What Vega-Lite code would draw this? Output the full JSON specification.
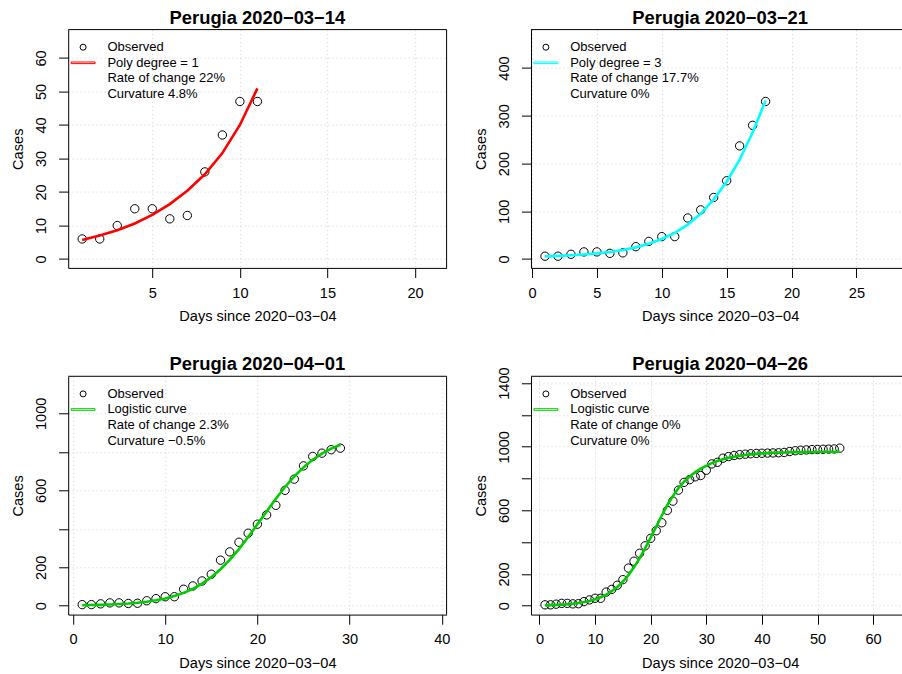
{
  "$schema": "https://vega.github.io/schema/vega-lite/v6.json",
  "autosize": {"type": "pad"},
  "padding": {"left": 10.2, "top": 8.6, "right": 0, "bottom": 0},
  "background": "white",
  "columns": 2,
  "spacing": {"row": 107.7, "column": 83.8},
  "bounds": "flush",
  "resolve": {"scale": {"shape": "independent", "stroke": "independent", "x": "independent", "y": "independent"}, "legend": {"shape": "independent", "stroke": "independent"}},
  "datasets": {
    "obs1": [
      {"day": 1, "cases": 6}, {"day": 2, "cases": 6}, {"day": 3, "cases": 10}, {"day": 4, "cases": 15}, {"day": 5, "cases": 15},
      {"day": 6, "cases": 12}, {"day": 7, "cases": 13}, {"day": 8, "cases": 26}, {"day": 9, "cases": 37}, {"day": 10, "cases": 47}, {"day": 11, "cases": 47}
    ],
    "fit1": [
      {"day": 1, "cases": 5.7}, {"day": 2, "cases": 7.0}, {"day": 3, "cases": 8.6}, {"day": 4, "cases": 10.6}, {"day": 5, "cases": 13.2},
      {"day": 6, "cases": 16.4}, {"day": 7, "cases": 20.4}, {"day": 8, "cases": 25.3}, {"day": 9, "cases": 31.6}, {"day": 10, "cases": 40.0}, {"day": 11, "cases": 50.9}
    ],
    "obs2": [
      {"day": 1, "cases": 6}, {"day": 2, "cases": 6}, {"day": 3, "cases": 10}, {"day": 4, "cases": 15}, {"day": 5, "cases": 15},
      {"day": 6, "cases": 12}, {"day": 7, "cases": 13}, {"day": 8, "cases": 26}, {"day": 9, "cases": 37}, {"day": 10, "cases": 47},
      {"day": 11, "cases": 47}, {"day": 12, "cases": 86}, {"day": 13, "cases": 103}, {"day": 14, "cases": 129}, {"day": 15, "cases": 164},
      {"day": 16, "cases": 237}, {"day": 17, "cases": 280}, {"day": 18, "cases": 330}
    ],
    "fit2": [
      {"day": 1, "cases": 5.6}, {"day": 2, "cases": 6.6}, {"day": 3, "cases": 7.9}, {"day": 4, "cases": 9.6}, {"day": 5, "cases": 11.9},
      {"day": 6, "cases": 14.9}, {"day": 7, "cases": 19}, {"day": 8, "cases": 24.5}, {"day": 9, "cases": 32}, {"day": 10, "cases": 42},
      {"day": 11, "cases": 55}, {"day": 12, "cases": 72}, {"day": 13, "cases": 95}, {"day": 14, "cases": 125}, {"day": 15, "cases": 162},
      {"day": 16, "cases": 208}, {"day": 17, "cases": 265}, {"day": 18, "cases": 332}
    ],
    "obs3": [
      {"day": 1, "cases": 6}, {"day": 2, "cases": 6}, {"day": 3, "cases": 10}, {"day": 4, "cases": 15}, {"day": 5, "cases": 15},
      {"day": 6, "cases": 12}, {"day": 7, "cases": 13}, {"day": 8, "cases": 26}, {"day": 9, "cases": 37}, {"day": 10, "cases": 47},
      {"day": 11, "cases": 47}, {"day": 12, "cases": 86}, {"day": 13, "cases": 103}, {"day": 14, "cases": 129}, {"day": 15, "cases": 164},
      {"day": 16, "cases": 237}, {"day": 17, "cases": 280}, {"day": 18, "cases": 330}, {"day": 19, "cases": 377}, {"day": 20, "cases": 424},
      {"day": 21, "cases": 472}, {"day": 22, "cases": 522}, {"day": 23, "cases": 600}, {"day": 24, "cases": 658}, {"day": 25, "cases": 727},
      {"day": 26, "cases": 776}, {"day": 27, "cases": 793}, {"day": 28, "cases": 811}, {"day": 29, "cases": 819}
    ],
    "fit3": [
      {"day": 1, "cases": 2.7}, {"day": 2, "cases": 3.6}, {"day": 3, "cases": 4.8}, {"day": 4, "cases": 6.5}, {"day": 5, "cases": 8.8},
      {"day": 6, "cases": 11.8}, {"day": 7, "cases": 15.9}, {"day": 8, "cases": 21.3}, {"day": 9, "cases": 28.5}, {"day": 10, "cases": 38.1},
      {"day": 11, "cases": 50.6}, {"day": 12, "cases": 67.0}, {"day": 13, "cases": 88.2}, {"day": 14, "cases": 115.1}, {"day": 15, "cases": 148.8},
      {"day": 16, "cases": 189.9}, {"day": 17, "cases": 238.5}, {"day": 18, "cases": 294.7}, {"day": 19, "cases": 356.9}, {"day": 20, "cases": 423.0},
      {"day": 21, "cases": 490.4}, {"day": 22, "cases": 555.9}, {"day": 23, "cases": 617.2}, {"day": 24, "cases": 671.8}, {"day": 25, "cases": 719.1},
      {"day": 26, "cases": 758.6}, {"day": 27, "cases": 790.9}, {"day": 28, "cases": 816.5}, {"day": 29, "cases": 836.6}
    ],
    "obs4": [
      {"day": 1, "cases": 6}, {"day": 2, "cases": 6}, {"day": 3, "cases": 10}, {"day": 4, "cases": 15}, {"day": 5, "cases": 15},
      {"day": 6, "cases": 12}, {"day": 7, "cases": 13}, {"day": 8, "cases": 26}, {"day": 9, "cases": 37}, {"day": 10, "cases": 47},
      {"day": 11, "cases": 47}, {"day": 12, "cases": 86}, {"day": 13, "cases": 103}, {"day": 14, "cases": 129}, {"day": 15, "cases": 164},
      {"day": 16, "cases": 237}, {"day": 17, "cases": 280}, {"day": 18, "cases": 330}, {"day": 19, "cases": 377}, {"day": 20, "cases": 424},
      {"day": 21, "cases": 472}, {"day": 22, "cases": 522}, {"day": 23, "cases": 600}, {"day": 24, "cases": 658}, {"day": 25, "cases": 727},
      {"day": 26, "cases": 776}, {"day": 27, "cases": 793}, {"day": 28, "cases": 811}, {"day": 29, "cases": 819}, {"day": 30, "cases": 852},
      {"day": 31, "cases": 892}, {"day": 32, "cases": 902}, {"day": 33, "cases": 928}, {"day": 34, "cases": 938}, {"day": 35, "cases": 945},
      {"day": 36, "cases": 950}, {"day": 37, "cases": 953}, {"day": 38, "cases": 956}, {"day": 39, "cases": 958}, {"day": 40, "cases": 959},
      {"day": 41, "cases": 960}, {"day": 42, "cases": 961}, {"day": 43, "cases": 962}, {"day": 44, "cases": 964}, {"day": 45, "cases": 970},
      {"day": 46, "cases": 975}, {"day": 47, "cases": 978}, {"day": 48, "cases": 980}, {"day": 49, "cases": 982}, {"day": 50, "cases": 983},
      {"day": 51, "cases": 984}, {"day": 52, "cases": 985}, {"day": 53, "cases": 986}, {"day": 54, "cases": 991}
    ],
    "fit4": [
      {"day": 1, "cases": 3.1}, {"day": 2, "cases": 4.1}, {"day": 3, "cases": 5.5}, {"day": 4, "cases": 7.4}, {"day": 5, "cases": 9.8},
      {"day": 6, "cases": 13.1}, {"day": 7, "cases": 17.4}, {"day": 8, "cases": 23.1}, {"day": 9, "cases": 30.6}, {"day": 10, "cases": 40.5},
      {"day": 11, "cases": 53.3}, {"day": 12, "cases": 70.0}, {"day": 13, "cases": 91.3}, {"day": 14, "cases": 118.3}, {"day": 15, "cases": 151.8},
      {"day": 16, "cases": 192.8}, {"day": 17, "cases": 241.4}, {"day": 18, "cases": 297.8}, {"day": 19, "cases": 360.5}, {"day": 20, "cases": 428.1},
      {"day": 21, "cases": 497.9}, {"day": 22, "cases": 567.4}, {"day": 23, "cases": 633.5}, {"day": 24, "cases": 690}, {"day": 25, "cases": 740},
      {"day": 26, "cases": 780}, {"day": 27, "cases": 812}, {"day": 28, "cases": 840}, {"day": 29, "cases": 862}, {"day": 30, "cases": 880},
      {"day": 31, "cases": 897}, {"day": 32, "cases": 910}, {"day": 33, "cases": 921}, {"day": 34, "cases": 930}, {"day": 35, "cases": 937},
      {"day": 36, "cases": 943}, {"day": 37, "cases": 948}, {"day": 38, "cases": 952}, {"day": 39, "cases": 955}, {"day": 40, "cases": 958},
      {"day": 41, "cases": 960}, {"day": 42, "cases": 962}, {"day": 43, "cases": 963}, {"day": 44, "cases": 964}, {"day": 45, "cases": 965},
      {"day": 46, "cases": 966}, {"day": 47, "cases": 966}, {"day": 48, "cases": 967}, {"day": 49, "cases": 967}, {"day": 50, "cases": 967},
      {"day": 51, "cases": 968}, {"day": 52, "cases": 968}, {"day": 53, "cases": 968}, {"day": 54, "cases": 968}
    ]
  },
  "concat": [
    {
      "width": 378.4, "height": 238.3,
      "title": {"text": "Perugia 2020−03−14"},
      "layer": [
        {
          "data": {"name": "obs1"},
          "mark": {"type": "point", "filled": false, "size": 70, "strokeWidth": 1, "opacity": 1},
          "encoding": {
            "x": {"field": "day", "type": "quantitative", "scale": {"domain": [0.2, 21.8], "nice": false, "zero": false},
                  "axis": {"values": [5, 10, 15, 20], "title": "Days since 2020−03−04", "labelAngle": 0, "labelAlign": "center", "labelBaseline": "alphabetic", "labelPadding": 19.7, "labelOverlap": false, "labelFlush": false, "titleX": 189.2, "titleY": 53, "titleBaseline": "alphabetic", "titleAlign": "center"}},
            "y": {"field": "cases", "type": "quantitative", "scale": {"domain": [-2.632, 68.432], "nice": false, "zero": false},
                  "axis": {"values": [0, 10, 20, 30, 40, 50, 60], "title": "Cases", "labelAngle": 270, "labelAlign": "center", "labelBaseline": "alphabetic", "labelPadding": 13, "labelOverlap": false, "labelFlush": false, "labelExpr": "'' + datum.value", "titleX": -45.6, "titleY": 119.15, "titleAngle": 270, "titleBaseline": "alphabetic", "titleAlign": "center"}},
            "shape": {"datum": "Observed", "type": "nominal",
                      "scale": {"domain": ["Observed", "Poly degree = 1", "Rate of change 22%", "Curvature 4.8%"], "range": ["circle", "M-4,-0.27H4V0.27H-4Z", "M0,0", "M0,0"]},
                      "legend": {"orient": "none", "legendX": 8.4, "legendY": 11.1, "title": null, "padding": 0, "symbolSize": 36, "labelFont": "Liberation Sans", "labelFontSize": 13, "labelColor": "black", "labelOffset": 17.8, "rowPadding": 1.6, "labelLimit": 300, "symbolStrokeWidth": 1}},
            "stroke": {"datum": "Observed", "type": "nominal",
                      "scale": {"domain": ["Observed", "Poly degree = 1", "Rate of change 22%", "Curvature 4.8%"], "range": ["black", "#FF0000", "transparent", "transparent"]},
                      "legend": {"orient": "none", "legendX": 8.4, "legendY": 11.1, "title": null, "padding": 0, "symbolSize": 36, "labelFont": "Liberation Sans", "labelFontSize": 13, "labelColor": "black", "labelOffset": 17.8, "rowPadding": 1.6, "labelLimit": 300, "symbolStrokeWidth": 1}}
          }
        },
        {
          "data": {"name": "fit1"},
          "mark": {"type": "line", "color": "#FF0000", "strokeWidth": 2.6},
          "encoding": {
            "x": {"field": "day", "type": "quantitative",
                  "axis": {"values": [5, 10, 15, 20], "title": "Days since 2020−03−04", "labelAngle": 0, "labelAlign": "center", "labelBaseline": "alphabetic", "labelPadding": 19.7, "labelOverlap": false, "labelFlush": false, "titleX": 189.2, "titleY": 53, "titleBaseline": "alphabetic", "titleAlign": "center"}},
            "y": {"field": "cases", "type": "quantitative",
                  "axis": {"values": [0, 10, 20, 30, 40, 50, 60], "title": "Cases", "labelAngle": 270, "labelAlign": "center", "labelBaseline": "alphabetic", "labelPadding": 13, "labelOverlap": false, "labelFlush": false, "labelExpr": "'' + datum.value", "titleX": -45.6, "titleY": 119.15, "titleAngle": 270, "titleBaseline": "alphabetic", "titleAlign": "center"}}
          }
        },
        {"data": {"values": [{}]}, "mark": {"type": "rule", "color": "black", "strokeWidth": 1}, "encoding": {"y": {"datum": 68.432, "type": "quantitative",
                  "axis": {"values": [0, 10, 20, 30, 40, 50, 60], "title": "Cases", "labelAngle": 270, "labelAlign": "center", "labelBaseline": "alphabetic", "labelPadding": 13, "labelOverlap": false, "labelFlush": false, "labelExpr": "'' + datum.value", "titleX": -45.6, "titleY": 119.15, "titleAngle": 270, "titleBaseline": "alphabetic", "titleAlign": "center"}}}},
        {"data": {"values": [{}]}, "mark": {"type": "rule", "color": "black", "strokeWidth": 1}, "encoding": {"x": {"datum": 21.8, "type": "quantitative",
                  "axis": {"values": [5, 10, 15, 20], "title": "Days since 2020−03−04", "labelAngle": 0, "labelAlign": "center", "labelBaseline": "alphabetic", "labelPadding": 19.7, "labelOverlap": false, "labelFlush": false, "titleX": 189.2, "titleY": 53, "titleBaseline": "alphabetic", "titleAlign": "center"}}}}
      ]
    },
    {
      "width": 371.5, "height": 238.3,
      "title": {"text": "Perugia 2020−03−21", "dx": 3.45},
      "layer": [
        {
          "data": {"name": "obs2"},
          "mark": {"type": "point", "filled": false, "size": 70, "strokeWidth": 1, "opacity": 1},
          "encoding": {
            "x": {"field": "day", "type": "quantitative", "scale": {"domain": [-0.08, 28.55], "nice": false, "zero": false},
                  "axis": {"values": [0, 5, 10, 15, 20, 25], "title": "Days since 2020−03−04", "labelAngle": 0, "labelAlign": "center", "labelBaseline": "alphabetic", "labelPadding": 19.7, "labelOverlap": false, "labelFlush": false, "titleX": 189.2, "titleY": 53, "titleBaseline": "alphabetic", "titleAlign": "center"}},
            "y": {"field": "cases", "type": "quantitative", "scale": {"domain": [-18.48, 480.48], "nice": false, "zero": false},
                  "axis": {"values": [0, 100, 200, 300, 400], "title": "Cases", "labelAngle": 270, "labelAlign": "center", "labelBaseline": "alphabetic", "labelPadding": 13, "labelOverlap": false, "labelFlush": false, "labelExpr": "'' + datum.value", "titleX": -45.6, "titleY": 119.15, "titleAngle": 270, "titleBaseline": "alphabetic", "titleAlign": "center"}},
            "shape": {"datum": "Observed", "type": "nominal",
                      "scale": {"domain": ["Observed", "Poly degree = 3", "Rate of change 17.7%", "Curvature 0%"], "range": ["circle", "M-4,-0.27H4V0.27H-4Z", "M0,0", "M0,0"]},
                      "legend": {"orient": "none", "legendX": 8.4, "legendY": 11.1, "title": null, "padding": 0, "symbolSize": 36, "labelFont": "Liberation Sans", "labelFontSize": 13, "labelColor": "black", "labelOffset": 17.8, "rowPadding": 1.6, "labelLimit": 300, "symbolStrokeWidth": 1}},
            "stroke": {"datum": "Observed", "type": "nominal",
                      "scale": {"domain": ["Observed", "Poly degree = 3", "Rate of change 17.7%", "Curvature 0%"], "range": ["black", "#00FFFF", "transparent", "transparent"]},
                      "legend": {"orient": "none", "legendX": 8.4, "legendY": 11.1, "title": null, "padding": 0, "symbolSize": 36, "labelFont": "Liberation Sans", "labelFontSize": 13, "labelColor": "black", "labelOffset": 17.8, "rowPadding": 1.6, "labelLimit": 300, "symbolStrokeWidth": 1}}
          }
        },
        {
          "data": {"name": "fit2"},
          "mark": {"type": "line", "color": "#00FFFF", "strokeWidth": 2.6},
          "encoding": {
            "x": {"field": "day", "type": "quantitative",
                  "axis": {"values": [0, 5, 10, 15, 20, 25], "title": "Days since 2020−03−04", "labelAngle": 0, "labelAlign": "center", "labelBaseline": "alphabetic", "labelPadding": 19.7, "labelOverlap": false, "labelFlush": false, "titleX": 189.2, "titleY": 53, "titleBaseline": "alphabetic", "titleAlign": "center"}},
            "y": {"field": "cases", "type": "quantitative",
                  "axis": {"values": [0, 100, 200, 300, 400], "title": "Cases", "labelAngle": 270, "labelAlign": "center", "labelBaseline": "alphabetic", "labelPadding": 13, "labelOverlap": false, "labelFlush": false, "labelExpr": "'' + datum.value", "titleX": -45.6, "titleY": 119.15, "titleAngle": 270, "titleBaseline": "alphabetic", "titleAlign": "center"}}
          }
        },
        {"data": {"values": [{}]}, "mark": {"type": "rule", "color": "black", "strokeWidth": 1}, "encoding": {"y": {"datum": 480.48, "type": "quantitative",
                  "axis": {"values": [0, 100, 200, 300, 400], "title": "Cases", "labelAngle": 270, "labelAlign": "center", "labelBaseline": "alphabetic", "labelPadding": 13, "labelOverlap": false, "labelFlush": false, "labelExpr": "'' + datum.value", "titleX": -45.6, "titleY": 119.15, "titleAngle": 270, "titleBaseline": "alphabetic", "titleAlign": "center"}}}}
      ]
    },
    {
      "width": 378.4, "height": 238.3,
      "title": {"text": "Perugia 2020−04−01"},
      "layer": [
        {
          "data": {"name": "obs3"},
          "mark": {"type": "point", "filled": false, "size": 70, "strokeWidth": 1, "opacity": 1},
          "encoding": {
            "x": {"field": "day", "type": "quantitative", "scale": {"domain": [-0.52, 40.52], "nice": false, "zero": false},
                  "axis": {"values": [0, 10, 20, 30, 40], "title": "Days since 2020−03−04", "labelAngle": 0, "labelAlign": "center", "labelBaseline": "alphabetic", "labelPadding": 19.7, "labelOverlap": false, "labelFlush": false, "titleX": 189.2, "titleY": 53, "titleBaseline": "alphabetic", "titleAlign": "center"}},
            "y": {"field": "cases", "type": "quantitative", "scale": {"domain": [-45.86, 1192.5], "nice": false, "zero": false},
                  "axis": {"values": [0, 200, 400, 600, 800, 1000], "title": "Cases", "labelAngle": 270, "labelAlign": "center", "labelBaseline": "alphabetic", "labelPadding": 13, "labelOverlap": false, "labelFlush": false, "labelExpr": "datum.value == 400 || datum.value == 800 ? '' : '' + datum.value", "titleX": -45.6, "titleY": 119.15, "titleAngle": 270, "titleBaseline": "alphabetic", "titleAlign": "center"}},
            "shape": {"datum": "Observed", "type": "nominal",
                      "scale": {"domain": ["Observed", "Logistic curve", "Rate of change 2.3%", "Curvature −0.5%"], "range": ["circle", "M-4,-0.27H4V0.27H-4Z", "M0,0", "M0,0"]},
                      "legend": {"orient": "none", "legendX": 8.4, "legendY": 11.1, "title": null, "padding": 0, "symbolSize": 36, "labelFont": "Liberation Sans", "labelFontSize": 13, "labelColor": "black", "labelOffset": 17.8, "rowPadding": 1.6, "labelLimit": 300, "symbolStrokeWidth": 1}},
            "stroke": {"datum": "Observed", "type": "nominal",
                      "scale": {"domain": ["Observed", "Logistic curve", "Rate of change 2.3%", "Curvature −0.5%"], "range": ["black", "#00CD00", "transparent", "transparent"]},
                      "legend": {"orient": "none", "legendX": 8.4, "legendY": 11.1, "title": null, "padding": 0, "symbolSize": 36, "labelFont": "Liberation Sans", "labelFontSize": 13, "labelColor": "black", "labelOffset": 17.8, "rowPadding": 1.6, "labelLimit": 300, "symbolStrokeWidth": 1}}
          }
        },
        {
          "data": {"name": "fit3"},
          "mark": {"type": "line", "color": "#00CD00", "strokeWidth": 2.6},
          "encoding": {
            "x": {"field": "day", "type": "quantitative",
                  "axis": {"values": [0, 10, 20, 30, 40], "title": "Days since 2020−03−04", "labelAngle": 0, "labelAlign": "center", "labelBaseline": "alphabetic", "labelPadding": 19.7, "labelOverlap": false, "labelFlush": false, "titleX": 189.2, "titleY": 53, "titleBaseline": "alphabetic", "titleAlign": "center"}},
            "y": {"field": "cases", "type": "quantitative",
                  "axis": {"values": [0, 200, 400, 600, 800, 1000], "title": "Cases", "labelAngle": 270, "labelAlign": "center", "labelBaseline": "alphabetic", "labelPadding": 13, "labelOverlap": false, "labelFlush": false, "labelExpr": "datum.value == 400 || datum.value == 800 ? '' : '' + datum.value", "titleX": -45.6, "titleY": 119.15, "titleAngle": 270, "titleBaseline": "alphabetic", "titleAlign": "center"}}
          }
        },
        {"data": {"values": [{}]}, "mark": {"type": "rule", "color": "black", "strokeWidth": 1}, "encoding": {"y": {"datum": 1192.5, "type": "quantitative",
                  "axis": {"values": [0, 200, 400, 600, 800, 1000], "title": "Cases", "labelAngle": 270, "labelAlign": "center", "labelBaseline": "alphabetic", "labelPadding": 13, "labelOverlap": false, "labelFlush": false, "labelExpr": "datum.value == 400 || datum.value == 800 ? '' : '' + datum.value", "titleX": -45.6, "titleY": 119.15, "titleAngle": 270, "titleBaseline": "alphabetic", "titleAlign": "center"}}}},
        {"data": {"values": [{}]}, "mark": {"type": "rule", "color": "black", "strokeWidth": 1}, "encoding": {"x": {"datum": 40.52, "type": "quantitative",
                  "axis": {"values": [0, 10, 20, 30, 40], "title": "Days since 2020−03−04", "labelAngle": 0, "labelAlign": "center", "labelBaseline": "alphabetic", "labelPadding": 19.7, "labelOverlap": false, "labelFlush": false, "titleX": 189.2, "titleY": 53, "titleBaseline": "alphabetic", "titleAlign": "center"}}}}
      ]
    },
    {
      "width": 371.5, "height": 238.3,
      "title": {"text": "Perugia 2020−04−26", "dx": 3.45, "dy": 8.4},
      "layer": [
        {
          "data": {"name": "obs4"},
          "mark": {"type": "point", "filled": false, "size": 70, "strokeWidth": 1, "opacity": 1},
          "encoding": {
            "x": {"field": "day", "type": "quantitative", "scale": {"domain": [-1.52, 65.28], "nice": false, "zero": false},
                  "axis": {"values": [0, 10, 20, 30, 40, 50, 60], "title": "Days since 2020−03−04", "labelAngle": 0, "labelAlign": "center", "labelBaseline": "alphabetic", "labelPadding": 19.7, "labelOverlap": false, "labelFlush": false, "titleX": 189.2, "titleY": 53, "titleBaseline": "alphabetic", "titleAlign": "center"}},
            "y": {"field": "cases", "type": "quantitative", "scale": {"domain": [-55.5, 1442.9], "nice": false, "zero": false},
                  "axis": {"values": [0, 200, 400, 600, 800, 1000, 1200, 1400], "title": "Cases", "labelAngle": 270, "labelAlign": "center", "labelBaseline": "alphabetic", "labelPadding": 13, "labelOverlap": false, "labelFlush": false, "labelExpr": "datum.value == 400 || datum.value == 800 || datum.value == 1200 ? '' : '' + datum.value", "titleX": -45.6, "titleY": 119.15, "titleAngle": 270, "titleBaseline": "alphabetic", "titleAlign": "center"}},
            "shape": {"datum": "Observed", "type": "nominal",
                      "scale": {"domain": ["Observed", "Logistic curve", "Rate of change 0%", "Curvature 0%"], "range": ["circle", "M-4,-0.27H4V0.27H-4Z", "M0,0", "M0,0"]},
                      "legend": {"orient": "none", "legendX": 8.4, "legendY": 11.1, "title": null, "padding": 0, "symbolSize": 36, "labelFont": "Liberation Sans", "labelFontSize": 13, "labelColor": "black", "labelOffset": 17.8, "rowPadding": 1.6, "labelLimit": 300, "symbolStrokeWidth": 1}},
            "stroke": {"datum": "Observed", "type": "nominal",
                      "scale": {"domain": ["Observed", "Logistic curve", "Rate of change 0%", "Curvature 0%"], "range": ["black", "#00CD00", "transparent", "transparent"]},
                      "legend": {"orient": "none", "legendX": 8.4, "legendY": 11.1, "title": null, "padding": 0, "symbolSize": 36, "labelFont": "Liberation Sans", "labelFontSize": 13, "labelColor": "black", "labelOffset": 17.8, "rowPadding": 1.6, "labelLimit": 300, "symbolStrokeWidth": 1}}
          }
        },
        {
          "data": {"name": "fit4"},
          "mark": {"type": "line", "color": "#00CD00", "strokeWidth": 2.6},
          "encoding": {
            "x": {"field": "day", "type": "quantitative",
                  "axis": {"values": [0, 10, 20, 30, 40, 50, 60], "title": "Days since 2020−03−04", "labelAngle": 0, "labelAlign": "center", "labelBaseline": "alphabetic", "labelPadding": 19.7, "labelOverlap": false, "labelFlush": false, "titleX": 189.2, "titleY": 53, "titleBaseline": "alphabetic", "titleAlign": "center"}},
            "y": {"field": "cases", "type": "quantitative",
                  "axis": {"values": [0, 200, 400, 600, 800, 1000, 1200, 1400], "title": "Cases", "labelAngle": 270, "labelAlign": "center", "labelBaseline": "alphabetic", "labelPadding": 13, "labelOverlap": false, "labelFlush": false, "labelExpr": "datum.value == 400 || datum.value == 800 || datum.value == 1200 ? '' : '' + datum.value", "titleX": -45.6, "titleY": 119.15, "titleAngle": 270, "titleBaseline": "alphabetic", "titleAlign": "center"}}
          }
        },
        {"data": {"values": [{}]}, "mark": {"type": "rule", "color": "black", "strokeWidth": 1}, "encoding": {"y": {"datum": 1442.9, "type": "quantitative",
                  "axis": {"values": [0, 200, 400, 600, 800, 1000, 1200, 1400], "title": "Cases", "labelAngle": 270, "labelAlign": "center", "labelBaseline": "alphabetic", "labelPadding": 13, "labelOverlap": false, "labelFlush": false, "labelExpr": "datum.value == 400 || datum.value == 800 || datum.value == 1200 ? '' : '' + datum.value", "titleX": -45.6, "titleY": 119.15, "titleAngle": 270, "titleBaseline": "alphabetic", "titleAlign": "center"}}}}
      ]
    }
  ],
  "config": {
    "view": {"stroke": null},
    "font": "Liberation Sans",
    "title": {"font": "Liberation Sans", "fontSize": 18.4, "fontWeight": "bold", "color": "black", "anchor": "middle", "frame": "group", "baseline": "alphabetic", "offset": 2.1},
    "axis": {
      "labelFont": "Liberation Sans", "labelFontSize": 14.6, "labelColor": "black",
      "titleFont": "Liberation Sans", "titleFontSize": 14.6, "titleFontWeight": "normal", "titleColor": "black",
      "tickColor": "black", "tickSize": 9.6, "tickWidth": 1, "domainColor": "black", "domainWidth": 1,
      "grid": true, "gridColor": "#D3D3D3", "gridDash": [1, 3], "gridWidth": 1,
      "labelFlush": false, "labelBound": false
    }
  }
}
